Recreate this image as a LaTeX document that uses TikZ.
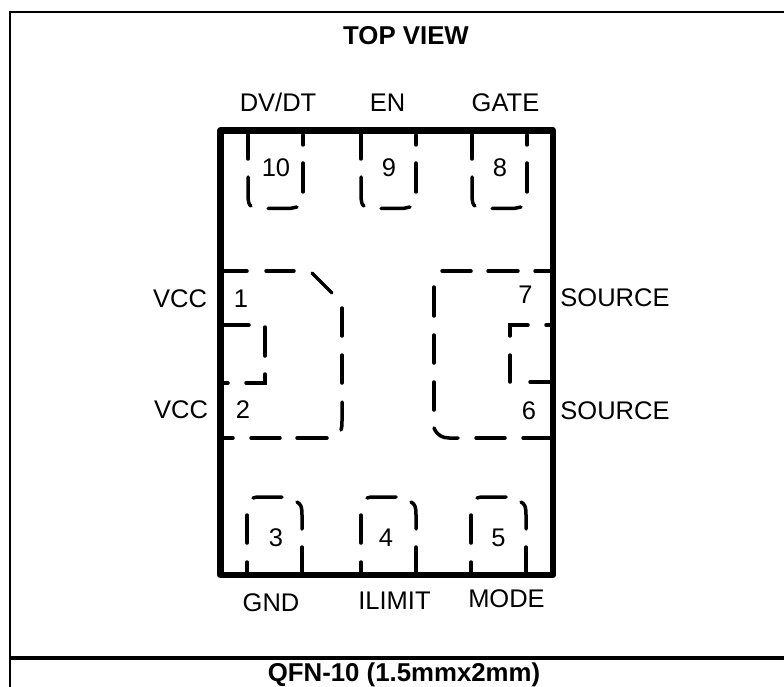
\documentclass[tikz,border=0pt]{standalone}
\usepackage{fontspec}
\setmainfont{Liberation Sans}
\begin{document}
\begin{tikzpicture}[x=1pt, y=-1pt, line cap=round,
        every node/.append style={inner sep=0pt, font=\fontsize{25.5}{30}\selectfont}]
      \tikzstyle{frameline} = [line width=2pt, line cap=butt]
      \tikzstyle{bodyline} = [line width=6.5pt, line join=round]
      \tikzstyle{padline} = [line width=3.5pt]
      \tikzstyle{heading} = [font=\fontsize{25.8}{30}\selectfont\bfseries]
      \useasboundingbox (0,0) rectangle (784,687);
      % outer frame
      \draw[frameline] (10,687) -- (10,12) -- (784,12);
      \draw[line width=4pt, line cap=butt] (10,658) -- (784,658);
      \node (top) [heading] at (406,36) {TOP VIEW};
      \node (pkg) [heading] at (404,675) {QFN-10 (1.5mmx2mm)};
      % package body
      \draw[bodyline] (220.5,130.5) rectangle (553,575);
      % upper pads
      \foreach \off/\num/\name/\lx/\ly in {0/10/DV\slash DT/278/102, 113/9/EN/387.5/103, 224/8/GATE/505.5/103} {
        \draw[padline] (248+\off,132) -- (248+\off,159);
        \draw[padline] (248+\off,177) -- (248+\off,194) .. controls (248+\off,202) and (249+\off,205) .. (251+\off,206);
        \draw[padline] (268+\off,208.5) -- (290+\off,208.5) -- (297+\off,207);
        \draw[padline] (303+\off,163) -- (303+\off,192);
        \draw[padline] (303+\off,135) -- (303+\off,145);
        \node at (276+\off,168) {\num};
        \node at (\lx,\ly) {\name};
      }
      % lower pads
      \foreach \off/\num/\nx/\name/\lx/\ly in {0/3/276/GND/271/602.5, 114/4/386/ILIMIT/394.5/601, 224/5/498.5/MODE/506.5/598.5} {
        \draw[padline] (247+\off,515) -- (247+\off,543);
        \draw[padline] (247+\off,562) -- (247+\off,574);
        \draw[padline] (253+\off,498) -- (257+\off,497) -- (282+\off,497);
        \draw[padline] (297+\off,502) .. controls (301+\off,504) and (302+\off,507) .. (302+\off,515) -- (302+\off,529);
        \draw[padline] (302+\off,547) -- (302+\off,574);
        \node at (\nx,537.5) {\num};
        \node at (\lx,\ly) {\name};
      }
      % pads 1 and 2
      \draw[padline] (222,271) -- (247,271);
      \draw[padline] (266,271) -- (294,271);
      \draw[padline] (312,273) -- (332,293);
      \draw[padline] (342,308) -- (342,336);
      \draw[padline] (342,355) -- (342,383);
      \draw[padline] (342,402) -- (342,420) .. controls (342,425) and (342,428) .. (341,430);
      \draw[padline] (222,438) -- (233,438);
      \draw[padline] (251,438) -- (280,438);
      \draw[padline] (297,438) -- (327,438);
      \draw[padline] (222,325) -- (249,325);
      \draw[padline] (265,327) -- (265,356);
      \draw[padline] (265,374) -- (265,383) -- (246,383);
      \draw[padline] (222,383) -- (228,383);
      \node (pin1) at (241,299) {1};
      \node (pin2) at (243,410) {2};
      \node (vcca) at (180,299) {VCC};
      \node (vccb) at (181,410) {VCC};
      % pads 6 and 7
      \draw[padline] (442,271) -- (471,271);
      \draw[padline] (488,271) -- (518,271);
      \draw[padline] (535,271) -- (550,271);
      \draw[padline] (434,287) -- (434,316);
      \draw[padline] (434,335) -- (434,363);
      \draw[padline] (434,382) -- (434,410);
      \draw[padline] (434,428) .. controls (437,435) and (442,438) .. (449,438) -- (458,438);
      \draw[padline] (476,438) -- (505,438);
      \draw[padline] (523,438) -- (550,438);
      \draw[padline] (528,325) -- (510,325) -- (510,336);
      \draw[padline] (546,325) -- (550,325);
      \draw[padline] (510,355) -- (510,382);
      \draw[padline] (530,382) -- (550,382);
      \node (pin7) at (525.5,295) {7};
      \node (pin6) at (529,411) {6};
      \node (srca) at (615,298) {SOURCE};
      \node (srcb) at (615,411) {SOURCE};
\end{tikzpicture}
\end{document}
